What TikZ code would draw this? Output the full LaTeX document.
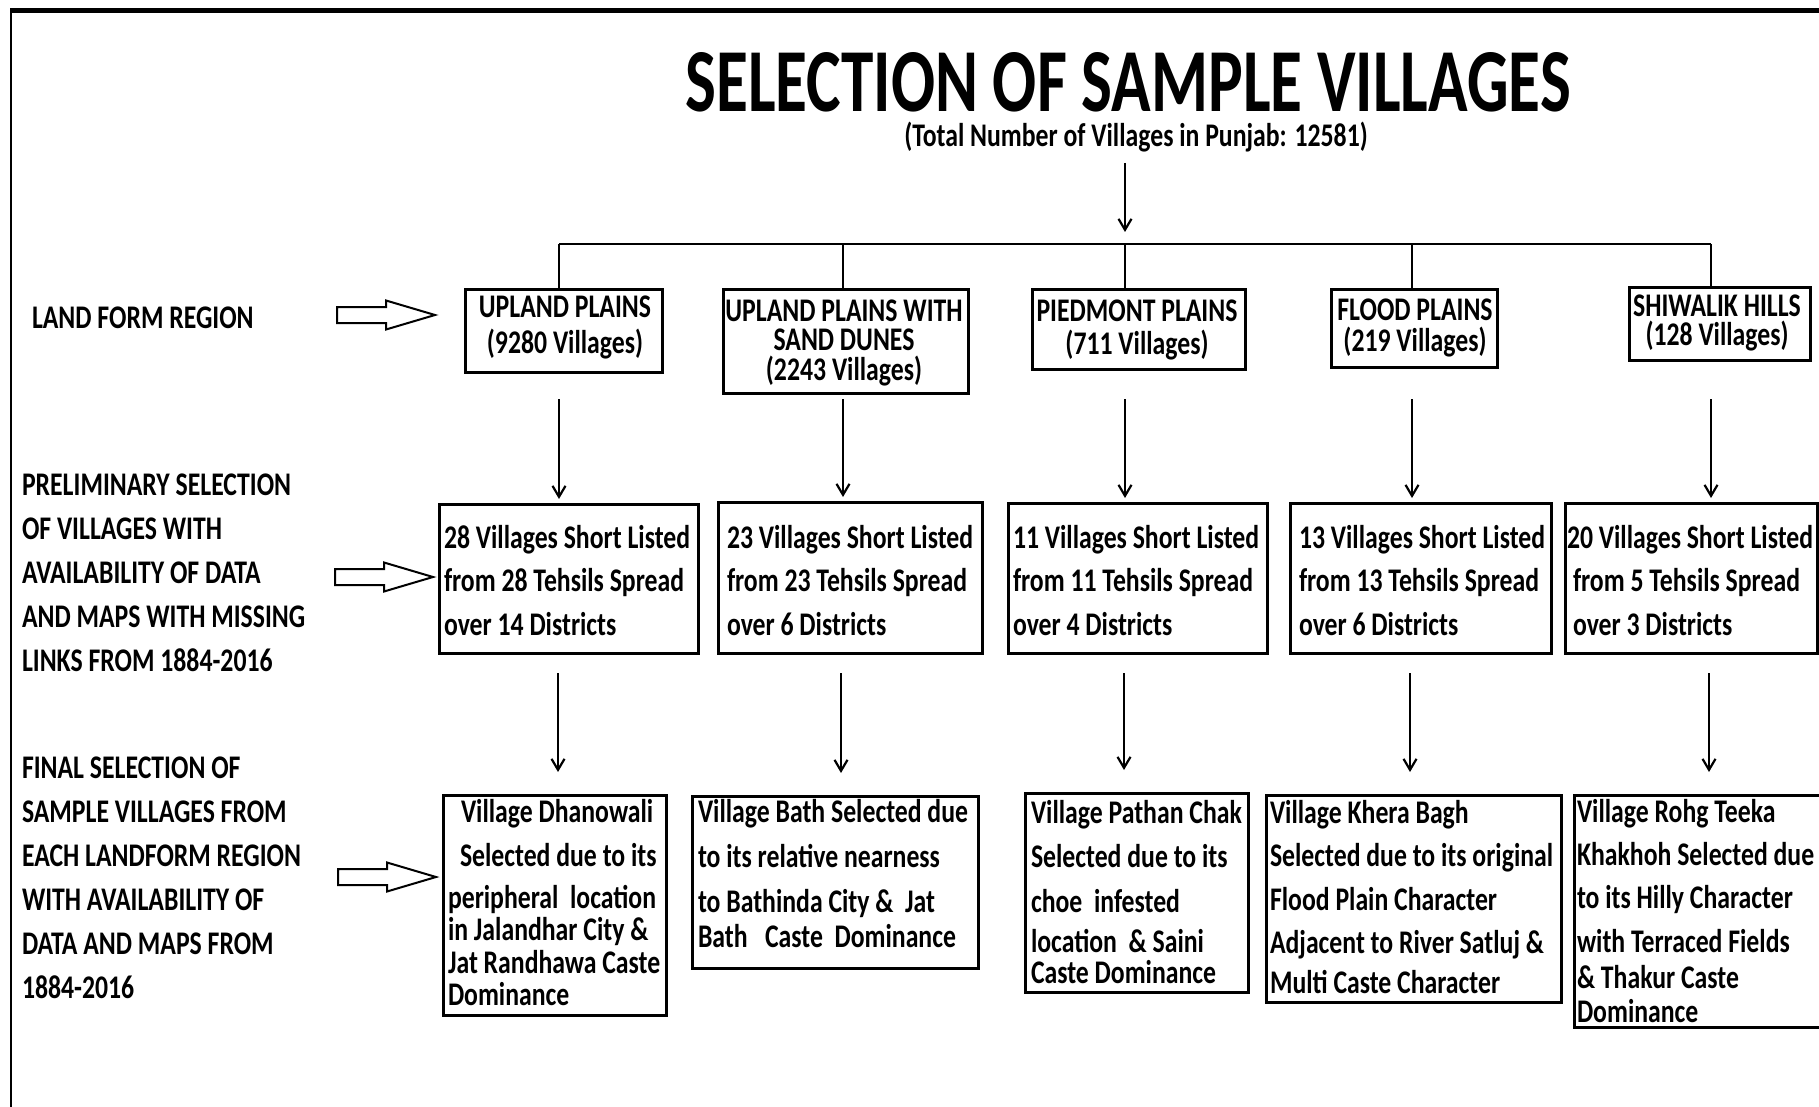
\documentclass[tikz,border=0pt]{standalone}
\usepackage{fontspec}
\setmainfont{Carlito}[FakeStretch=0.78]
\newfontfamily\titlefont{Carlito}[FakeStretch=0.725]
\usetikzlibrary{arrows.meta}
\newcommand\ml[3]{\parbox[t]{#1}{\setlength{\baselineskip}{#2}\raggedright #3}}
\newcommand\mc[3]{\parbox[t]{#1}{\setlength{\baselineskip}{#2}\centering #3}}
\tikzset{
  box/.style={draw, line width=3pt, inner sep=0pt, outer sep=0pt},
  txt/.style={inner sep=0pt, outer sep=0pt, font=\fontsize{33pt}{40pt}\selectfont\bfseries},
  conn/.style={line width=2.2pt},
  arr/.style={line width=2.2pt, -{Straight Barb[length=11pt,width=13pt,line width=2.2pt]}},
  harrow/.pic={\draw[line width=2pt, line join=miter] (0,-8) -- (49,-8) -- (49,-14.5) -- (98,0) -- (49,14.5) -- (49,8) -- (0,8) -- cycle;}
}
\begin{document}
\begin{tikzpicture}[x=1pt,y=-1pt]
\useasboundingbox (0,0) rectangle (1819,1107);
% frame
\draw[line width=4.5pt] (10,10.5) -- (1830,10.5);
\draw[line width=2pt] (11,8.5) -- (11,1115);

% title
\node[inner sep=0pt, anchor=base, font=\titlefont\fontsize{90pt}{90pt}\selectfont\bfseries] (title) at (1128,112) {SELECTION OF SAMPLE VILLAGES};
\node[txt, anchor=base] (sub) at (1136,147) {(Total Number of Villages in Punjab: 12581)};

% left labels
\node[txt, anchor=base west] (lab1) at (32,328) {LAND FORM REGION};
\node[txt, anchor=base west] (lab2) at (22,495) {\ml{400pt}{44pt}{PRELIMINARY SELECTION\\OF VILLAGES WITH\\AVAILABILITY OF DATA\\AND MAPS WITH MISSING\\LINKS FROM 1884-2016}};
\node[txt, anchor=base west] (lab3) at (22,778) {\ml{400pt}{44pt}{FINAL SELECTION OF\\SAMPLE VILLAGES FROM\\EACH LANDFORM REGION\\WITH AVAILABILITY OF\\DATA AND MAPS FROM\\1884-2016}};

% hollow arrows
\pic at (337,315) {harrow};
\pic at (335,577) {harrow};
\pic at (338,877) {harrow};

% row 1 boxes
\node[box, minimum width=197pt, minimum height=83pt] (b1) at (563.5,330.5) {};
\node[box, minimum width=245pt, minimum height=104pt] (b2) at (845.5,341) {};
\node[box, minimum width=213pt, minimum height=80pt] (b3) at (1138.5,329) {};
\node[box, minimum width=166pt, minimum height=78pt] (b4) at (1414,328) {};
\node[box, minimum width=181pt, minimum height=73pt] (b5) at (1719.5,323.5) {};
\node[txt, anchor=base] (tb1) at (565,317) {\mc{300pt}{36pt}{UPLAND PLAINS\\(9280 Villages)}};
\node[txt, anchor=base] (tb2) at (844,321) {\mc{300pt}{29.5pt}{UPLAND PLAINS WITH\\SAND DUNES\\(2243 Villages)}};
\node[txt, anchor=base] (tb3) at (1137,321) {\mc{300pt}{33pt}{PIEDMONT PLAINS\\(711 Villages)}};
\node[txt, anchor=base] (tb4) at (1415,320) {\mc{300pt}{31pt}{FLOOD PLAINS\\(219 Villages)}};
\node[txt, anchor=base] (tb5) at (1717,316) {\mc{300pt}{29pt}{SHIWALIK HILLS\\(128 Villages)}};

% row 2 boxes
\node[box, minimum width=259pt, minimum height=149pt] (c1) at (568.5,578.5) {};
\node[box, minimum width=264pt, minimum height=151pt] (c2) at (850,577.5) {};
\node[box, minimum width=259pt, minimum height=150pt] (c3) at (1137.5,578) {};
\node[box, minimum width=261pt, minimum height=150pt] (c4) at (1420.5,578) {};
\node[box, minimum width=252pt, minimum height=150pt] (c5) at (1691,578) {};
\node[txt, anchor=base west] (tc1) at (444,548) {\ml{400pt}{43.5pt}{28 Villages Short Listed\\from 28 Tehsils Spread\\over 14 Districts}};
\node[txt, anchor=base west] (tc2) at (727,548) {\ml{400pt}{43.5pt}{23 Villages Short Listed\\from 23 Tehsils Spread\\over 6 Districts}};
\node[txt, anchor=base west] (tc3) at (1013,548) {\ml{400pt}{43.5pt}{11 Villages Short Listed\\from 11 Tehsils Spread\\over 4 Districts}};
\node[txt, anchor=base west] (tc4) at (1299,548) {\ml{400pt}{43.5pt}{13 Villages Short Listed\\from 13 Tehsils Spread\\over 6 Districts}};
\node[txt, anchor=base west] (tc5) at (1567,548) {\ml{400pt}{43.5pt}{20 Villages Short Listed\\\hspace*{6pt}from 5 Tehsils Spread\\\hspace*{6pt}over 3 Districts}};

% row 3 boxes
\node[box, minimum width=223pt, minimum height=220pt] (d1) at (554.5,905) {};
\node[box, minimum width=286pt, minimum height=172pt] (d2) at (835,882) {};
\node[box, minimum width=223pt, minimum height=199pt] (d3) at (1136.5,892.5) {};
\node[box, minimum width=295pt, minimum height=207pt] (d4) at (1413.5,898.5) {};
\node[box, minimum width=256pt, minimum height=232pt] (d5) at (1702,911) {};
\node[txt, anchor=base west] (td1) at (448,822) {\ml{400pt}{32.5pt}{\hspace*{13pt}Village Dhanowali\\[11.5pt]\hspace*{12pt}Selected due to its\\[9.5pt]peripheral\ \ location\\in Jalandhar City \&\\Jat Randhawa Caste\\Dominance}};
\node[txt, anchor=base west] (td2) at (698,822) {\ml{400pt}{35pt}{Village Bath Selected due\\[10pt]to its relative nearness\\[10pt]to Bathinda City \&\ \ Jat\\Bath\ \ \ Caste\ \ Dominance}};
\node[txt, anchor=base west] (td3) at (1031,823) {\ml{400pt}{31pt}{Village Pathan Chak\\[13pt]Selected due to its\\[14pt]choe\ \ infested\\[9pt]location\ \ \& Saini\\Caste Dominance}};
\node[txt, anchor=base west] (td4) at (1270,823) {\ml{400pt}{40pt}{Village Khera Bagh\\[3pt]Selected due to its original\\[4pt]Flood Plain Character\\[3pt]Adjacent to River Satluj \&\\Multi Caste Character}};
\node[txt, anchor=base west] (td5) at (1577,822) {\ml{400pt}{34pt}{Village Rohg Teeka\\[9pt]Khakhoh Selected due\\[9pt]to its Hilly Character\\[10pt]with Terraced Fields\\[2pt]\& Thakur Caste\\Dominance}};

% connectors
\coordinate (t0) at (1125,163);
\coordinate (j1) at (559,244);
\coordinate (j2) at (843,244);
\coordinate (j3) at (1125,244);
\coordinate (j4) at (1412,244);
\coordinate (j5) at (1711,244);
\draw[arr] (t0) -- ([yshift=12pt]j3);
\draw[conn] (j1) -- (j5);
\foreach \j/\b in {j1/b1,j2/b2,j3/b3,j4/b4,j5/b5}{
  \draw[conn] (\j) -- (\j |- \b.north);
}
\coordinate (u1) at (559,399);
\coordinate (u2) at (843,399);
\coordinate (u3) at (1125,399);
\coordinate (u4) at (1412,399);
\coordinate (u5) at (1711,399);
\foreach \u/\c in {u1/c1,u2/c2,u3/c3,u4/c4,u5/c5}{
  \draw[arr, shorten >=5pt] (\u) -- (\u |- \c.north);
}
\coordinate (v1) at (558,673);
\coordinate (v2) at (841,673);
\coordinate (v3) at (1124,673);
\coordinate (v4) at (1410,673);
\coordinate (v5) at (1709,673);
\foreach \v/\d in {v1/d1,v2/d2,v3/d3,v4/d4,v5/d5}{
  \draw[arr, shorten >=23pt] (\v) -- (\v |- \d.north);
}
\end{tikzpicture}
\end{document}
